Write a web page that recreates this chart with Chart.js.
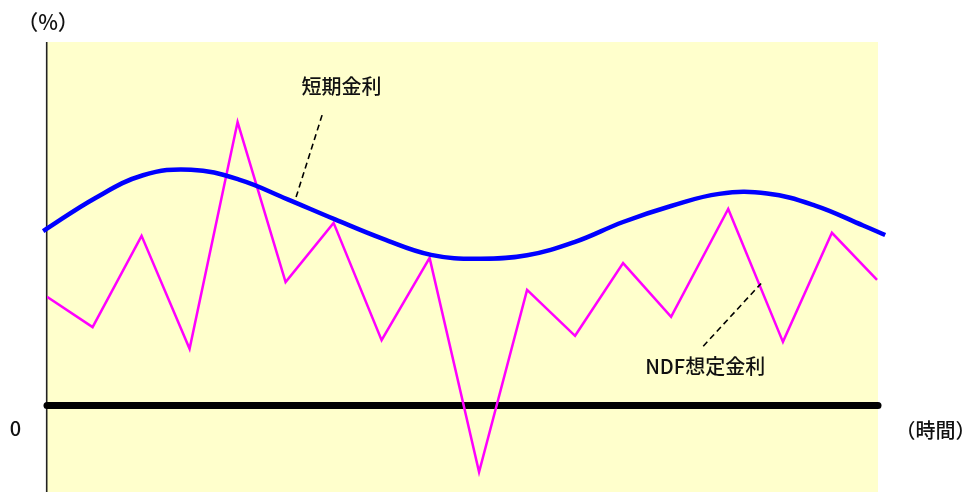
<!DOCTYPE html>
<html>
<head>
<meta charset="utf-8">
<script src="https://cdn.jsdelivr.net/npm/chart.js@4.4.1/dist/chart.umd.min.js"></script>
<style>
  html, body { margin: 0; padding: 0; background: #ffffff; }
  #wrap { width: 966px; height: 492px; }
</style>
</head>
<body>
<div id="wrap"><canvas id="c" width="966" height="492"></canvas></div>
<script>
// ---- data (time units, %) ----
const ndfTime  = [0, 0.95, 1.97, 2.97, 3.97, 4.97, 5.97, 6.97, 7.97, 9.0, 10.0, 11.0, 12.0, 13.0, 14.19, 15.33, 16.35, 17.29];
const ndfRate  = [2.51, 1.81, 3.92, 1.31, 6.55, 2.85, 4.22, 1.51, 3.41, -1.54, 2.67, 1.61, 3.29, 2.05, 4.54, 1.47, 3.99, 2.90];

const shortTime = [-0.08, 1, 2, 3, 4, 5, 6, 7, 8, 9, 10, 11, 12, 13, 14, 15, 16, 17, 17.46];
const shortRate = [4.03, 4.79, 5.32, 5.45, 5.22, 4.77, 4.30, 3.85, 3.48, 3.39, 3.47, 3.78, 4.24, 4.61, 4.89, 4.90, 4.62, 4.16, 3.94];

const zeroTime = [0, 17.31];
const zeroRate = [0, 0];

const leaderShortTime = [5.73, 5.17];
const leaderShortRate = [6.71, 4.75];
const leaderNdfTime   = [13.67, 14.875];
const leaderNdfRate   = [1.37, 2.82];

const labelTexts = ['短期金利', 'NDF想定金利'];
const labelTime  = [6.135, 13.71];
const labelRate  = [7.38, 0.91];

const axisLabelY = '（%）';
const axisLabelX = '（時間）';
const zeroLabel  = '0';

const xMin = 0, xMax = 17.31, yMin = -2, yMax = 8.4;

const pts = (xs, ys) => xs.map((x, i) => ({ x: x, y: ys[i] }));

const FONT = '"Noto Sans CJK JP", "Noto Sans", sans-serif';

const decor = {
  id: 'decor',
  beforeDatasetsDraw(chart) {
    const { ctx, chartArea: a } = chart;
    ctx.save();
    ctx.fillStyle = '#FFFFCC';
    ctx.fillRect(a.left, a.top, a.right - a.left, a.bottom - a.top);
    ctx.strokeStyle = '#222222';
    ctx.lineWidth = 1.6;
    ctx.beginPath();
    ctx.moveTo(a.left - 0.3, a.top);
    ctx.lineTo(a.left - 0.3, a.bottom);
    ctx.stroke();
    ctx.restore();
  },
  afterDatasetsDraw(chart) {
    const { ctx, chartArea: a, scales } = chart;
    const xs = scales.x, ys = scales.y;
    ctx.save();
    ctx.fillStyle = '#111111';
    ctx.textAlign = 'center';
    ctx.textBaseline = 'middle';
    ctx.font = '500 20px ' + FONT;
    labelTexts.forEach((t, i) => {
      ctx.fillText(t, xs.getPixelForValue(labelTime[i]), ys.getPixelForValue(labelRate[i]));
    });
    const y0 = ys.getPixelForValue(0);
    ctx.fillText(zeroLabel, a.left - 31.5, y0 + 22.5);
    ctx.fillText(axisLabelX, a.right + 57.5, y0 + 25);
    ctx.font = '500 21px ' + FONT;
    ctx.fillText(axisLabelY, a.left + 1, a.top - 20);
    ctx.restore();
  }
};

new Chart(document.getElementById('c'), {
  type: 'line',
  data: {
    datasets: [
      { data: pts(leaderShortTime, leaderShortRate), borderColor: '#000', borderWidth: 1.6, borderDash: [6, 4], pointRadius: 0, tension: 0 },
      { data: pts(leaderNdfTime, leaderNdfRate), borderColor: '#000', borderWidth: 1.6, borderDash: [6, 4], pointRadius: 0, tension: 0 },
      { data: pts(shortTime, shortRate), borderColor: '#0000FF', borderWidth: 4.5, pointRadius: 0, tension: 0.4, clip: false },
      { data: pts(ndfTime, ndfRate), borderColor: '#FF00FF', borderWidth: 2.5, pointRadius: 0, tension: 0, borderJoinStyle: 'miter' },
      { data: pts(zeroTime, zeroRate), borderColor: '#000000', borderWidth: 7, pointRadius: 0, borderCapStyle: 'round', clip: false }
    ]
  },
  options: {
    responsive: false,
    animation: false,
    devicePixelRatio: 1,
    layout: { padding: { left: 47, right: 88, top: 42, bottom: 0 } },
    plugins: { legend: { display: false }, tooltip: { enabled: false } },
    scales: {
      x: { type: 'linear', min: xMin, max: xMax, display: false },
      y: { type: 'linear', min: yMin, max: yMax, display: false }
    }
  },
  plugins: [decor]
});
</script>
</body>
</html>
